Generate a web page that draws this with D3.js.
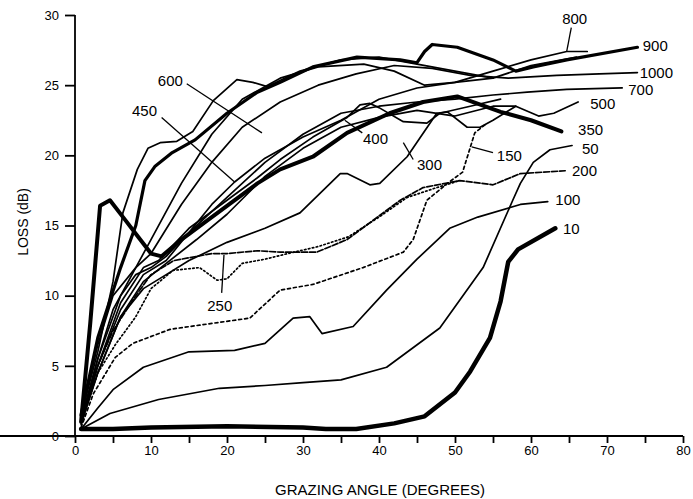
<!DOCTYPE html>
<html>
<head>
<meta charset="utf-8">
<script src="https://cdn.jsdelivr.net/npm/d3@7"></script>
<style>
  body { margin: 0; background: #fff; }
  text { font-family: "Liberation Sans", Arial, sans-serif; fill: #000; }
  .axis path, .axis line { stroke: #000; stroke-width: 1.8; }
  .axis text { font-size: 13px; }
</style>
</head>
<body>
<script>
// loss (dB) vs grazing angle (degrees), one array per curve
var loss10 = [[0.8,0.5],[5,0.5],[10,0.6],[20,0.7],[30,0.6],[33,0.5],[37,0.5],[42,0.9],[46,1.4],[50,3.1],[52,4.6],[54.6,7],[56,9.6],[57,12.4],[58.3,13.3],[63.2,14.8]];
var loss50 = [[0.8,0.5],[4.6,1.6],[11,2.6],[19,3.4],[25,3.6],[30,3.8],[35,4],[41,4.9],[48,7.7],[53.7,12],[57.6,16.8],[58.6,18],[60.3,19.5],[62.5,20.4],[65.4,20.7]];
var loss100 = [[0.8,0.5],[3,2],[5,3.3],[9,4.9],[15,6],[21,6.1],[25,6.6],[28.7,8.4],[30.9,8.5],[32.5,7.3],[36.6,7.8],[41,10.4],[45,12.6],[49.3,14.8],[53,15.6],[58.6,16.5],[62.2,16.7]];
var loss150 = [[0.8,0.6],[2.4,3],[5.3,5.6],[7.6,6.6],[12.5,7.6],[16.4,7.9],[23,8.4],[27,10.4],[31.3,10.8],[37.9,12],[43.2,13.1],[44.5,14],[46.3,16.8],[49,18],[51,18.8],[52.6,21.6],[54,22.2]];
var loss200 = [[0.8,1],[3,5],[5,7.5],[8,10],[10,11.5],[13,12.5],[18,13],[20,13],[24,13.2],[27,13.1],[31.8,13.1],[35.8,14],[42.8,16.8],[45.8,17.7],[50.6,18.2],[55,17.9],[58.6,18.7],[64.5,18.9]];
var loss250 = [[0.8,1],[3,4.5],[5.3,6.5],[8,8.5],[10,10.5],[12.9,11.8],[16.4,12],[18.7,11.1],[20,11.2],[22,12.3],[25,12.6],[28,13],[32,13.5],[36,14.2],[40,15.6],[43.7,17],[47.6,17.7],[50.6,18.2]];
var loss300 = [[0.8,0.8],[3,4.5],[6,8.5],[9,10.5],[12,11.5],[15,12.5],[20,13.8],[25,14.8],[29.6,15.9],[34.9,18.7],[35.8,18.7],[38.8,17.9],[40.1,18],[43.7,19.9],[47.6,23],[49,23.1],[51.6,22],[53.3,22],[55,22.5],[58,23.5]];
var loss350 = [[0.8,1],[2,8],[3.3,16.4],[4.6,16.8],[6.6,15.4],[8.3,14.2],[10,13],[11.4,12.8],[14,14],[16,14.8],[20,16.4],[24,18],[27,19],[31.3,19.9],[35.8,21.6],[41.4,23],[45.8,23.8],[50.3,24.2],[56,23.1],[60,22.5],[64,21.7]];
var loss400 = [[0.8,1],[3,5],[6,9.5],[9,12],[11,12.5],[15,14.8],[20,16.8],[24,18.4],[27,19.7],[31.3,21.3],[35.8,22.7],[37.5,23.6],[38.8,23.7],[40,23.4],[43.2,22.4],[46.3,22.3],[48,23],[52,23.5],[56,24]];
var loss450 = [[0.8,1],[3,5.5],[6,10],[8,11.5],[10,12],[12,12.8],[15,14.5],[18,16.5],[21,18.1],[25,19.8],[30,21.3],[35,22.5],[40,24],[45,24.8],[50,25.2],[55,25.5]];
var loss500 = [[0.8,1],[3,4.5],[6,8.5],[9,11],[12,12.3],[16,14],[20,15.8],[25,18.5],[30,20.5],[35,22],[40,22.7],[45,23.2],[50,22.8],[55,23.5],[58,23.5],[61,22.8],[63,23],[66.2,23.8]];
var loss600 = [[0.8,1.5],[3,6],[5,11],[6.3,15.9],[8.2,19],[9.6,20.5],[11.2,20.9],[13.4,21],[15.5,21.7],[18.2,23.9],[21.3,25.4],[23.4,25.2],[25.3,24.9],[29.6,26],[35,26.8],[40,27],[45,26.5],[50,26],[55,25.5],[60,26.4],[66,27]];
var loss700 = [[0.8,1.2],[3,5],[6,9],[9,11.5],[12,12.5],[15,14.5],[20,17],[25,19.5],[30,21.5],[35,23],[40,23.5],[45,23.8],[50,24],[55,24.3],[59.5,24.5],[64.7,24.7],[72,24.8]];
var loss800 = [[0.8,1.5],[3,6.5],[5,10],[8,12],[10,14],[14,18],[18,21.5],[22,24],[27,25.5],[32,26.3],[38,26.5],[42,26],[46,25],[50,25.2],[55,26],[60,26.8],[64.7,27.4],[67.4,27.4]];
var loss900 = [[0.8,1.5],[3,7],[6,12],[8,15],[9.2,18.2],[10.5,19.2],[12.8,20.2],[15.8,21.1],[20,23],[24,24.5],[27,25.2],[31.3,26.3],[37.1,27],[42.8,26.8],[45,26.6],[46,27.4],[47,27.9],[50.3,27.7],[55,26.8],[58,26],[60.3,26.3],[64.7,26.8],[74,27.7]];
var loss1000 = [[0.8,1.2],[3,5.5],[5,9],[8,12],[10,13],[14,16.5],[18,19.5],[22,22],[27,23.8],[32,25],[37,25.8],[42,26.4],[47,26.2],[52,25.7],[57,25.5],[63.4,25.7],[69,25.8],[74,25.9]];

var curveNames = ["10","50","100","150","200","250","300","350","400","450","500","600","700","800","900","1000"];
var curveData = [loss10,loss50,loss100,loss150,loss200,loss250,loss300,loss350,loss400,loss450,loss500,loss600,loss700,loss800,loss900,loss1000];

// curve labels: text, anchor point [deg, dB]
var labelText = ["800","900","1000","700","500","350","50","200","100","10","150","300","400","450","600","250"];
var labelAt = [[64.1,29.7],[74.7,27.8],[74.3,25.9],[72.8,24.7],[67.8,23.7],[66.2,21.8],[66.7,20.5],[65.4,18.9],[63.2,16.8],[64.2,14.75],[55.5,20],[45,19.3],[37.9,21.2],[7.5,23.2],[10.9,25.3],[17.4,9.3]];
// leader lines [deg1, dB1, deg2, dB2]
var leaders = [[65.3,29.1,64.7,27.4],[55,20.2,52.2,20.6],[44.5,19.7,43.2,20.9],[37.8,21.6,35.5,22.5],[11.4,22.7,21,18.1],[14.7,25.1,24.6,21.6],[19.3,10.2,19.6,12.9]];

var xTicks = d3.range(0, 81, 5);
var yTicks = [0, 5, 10, 15, 20, 25, 30];

var svgWidth = 693, svgHeight = 499;
var margin = {top: 15, right: 10, bottom: 63, left: 75};
var chartWidth = 608;
var chartHeight = svgHeight - margin.top - margin.bottom;

var svg = d3.select("body").append("svg")
  .attr("width", svgWidth)
  .attr("height", svgHeight);

var xScale = d3.scaleLinear().domain([0, 80]).range([margin.left, margin.left + chartWidth]);
var yScale = d3.scaleLinear().domain([0, 30]).range([margin.top + chartHeight, margin.top]);

// axes
var xAxisG = svg.append("g")
  .attr("class", "axis")
  .attr("transform", `translate(0, ${yScale(0)})`)
  .call(d3.axisBottom(xScale).tickValues(xTicks).tickSize(7).tickPadding(3)
    .tickFormat(d => d % 10 === 0 ? d : "").tickSizeOuter(0));

var yAxisG = svg.append("g")
  .attr("class", "axis")
  .attr("transform", `translate(${xScale(0)}, 0)`)
  .call(d3.axisLeft(yScale).tickValues(yTicks).tickSize(10).tickPadding(6).tickSizeOuter(0));

// plain axis lines, no end caps
xAxisG.select(".domain").attr("d", `M0,0H${xScale(80)}`);
yAxisG.select(".domain").attr("d", `M0,${yScale(0)}V${yScale(30)}`);

// curves
var line = d3.line().x(d => xScale(d[0])).y(d => yScale(d[1]));
var thick = {"10": 4.5, "350": 4, "900": 3.2};
var dashes = {"150": "3,3", "250": "1.5,2.5", "200": "6,2"};

var curves = svg.append("g").attr("fill", "none").attr("stroke", "#000")
  .attr("stroke-linejoin", "round").attr("stroke-linecap", "round");

curves.selectAll("path")
  .data(curveData)
  .enter()
  .append("path")
  .attr("d", line)
  .attr("stroke-width", (d, i) => thick[curveNames[i]] || 1.7)
  .attr("stroke-dasharray", (d, i) => dashes[curveNames[i]] || null);

// leader lines
svg.append("g").selectAll("line")
  .data(leaders)
  .enter()
  .append("line")
  .attr("x1", d => xScale(d[0])).attr("y1", d => yScale(d[1]))
  .attr("x2", d => xScale(d[2])).attr("y2", d => yScale(d[3]))
  .attr("stroke", "#000").attr("stroke-width", 1.3);

// curve labels
svg.append("g").selectAll("text")
  .data(labelText)
  .enter()
  .append("text")
  .attr("x", (d, i) => xScale(labelAt[i][0]))
  .attr("y", (d, i) => yScale(labelAt[i][1]))
  .attr("dy", "0.35em")
  .style("font-size", "15px")
  .text(d => d);

// axis titles
svg.append("text")
  .attr("transform", "translate(28, 222) rotate(-90)")
  .attr("text-anchor", "middle")
  .style("font-size", "14px")
  .text("LOSS (dB)");

svg.append("text")
  .attr("x", 380)
  .attr("y", 495)
  .attr("text-anchor", "middle")
  .style("font-size", "15px")
  .text("GRAZING ANGLE (DEGREES)");
</script>
</body>
</html>
